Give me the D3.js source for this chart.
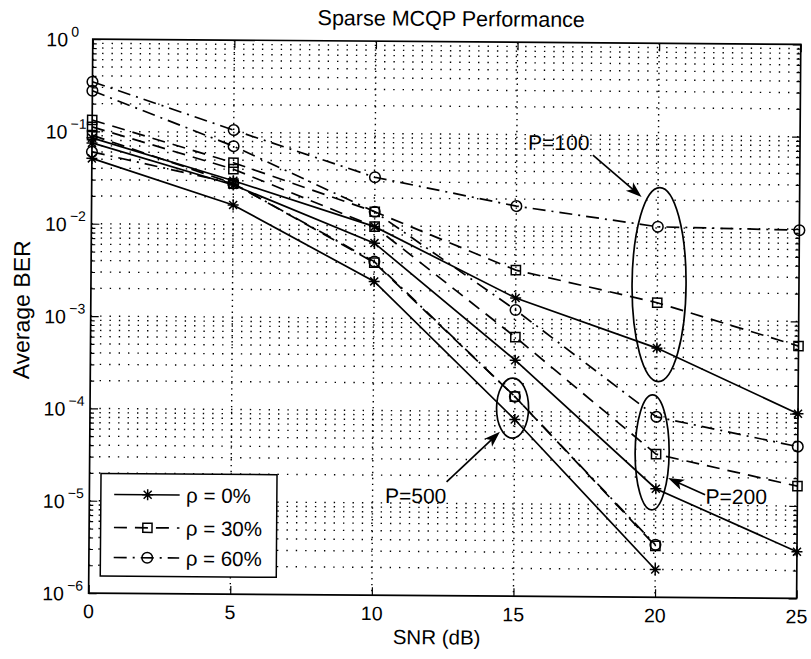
<!DOCTYPE html>
<html>
<head>
<meta charset="utf-8">
<script src="https://cdn.jsdelivr.net/npm/d3@7"></script>
<style>
  body { margin: 0; background: #fff; }
  svg { display: block; }
  text { font-family: "Liberation Sans", Arial, Helvetica, sans-serif; fill: #000; }
</style>
</head>
<body>
<svg id="chart" width="811" height="659"></svg>
<script>
// ---- data -------------------------------------------------------------
const snr = [0, 5, 10, 15, 20, 25];
const yTickExponents = [0, -1, -2, -3, -4, -5, -6];
const xTickValues = [0, 5, 10, 15, 20, 25];

// rho = 0 %  (solid, asterisk)
const rho0_P100 = [0.085, 0.030, 0.0098, 1.7e-3, 5.0e-4, 1.0e-4];
const rho0_P200 = [0.075, 0.027, 0.0065, 3.6e-4, 1.5e-5, 3.2e-6];
const rho0_P500 = [0.051, 0.0164, 0.0025, 8.2e-5, 2.0e-6];
// rho = 30 % (dashed, square)
const rho30_P100 = [0.133, 0.047, 0.0142, 3.4e-3, 1.55e-3, 5.4e-4];
const rho30_P200 = [0.112, 0.040, 0.0098, 6.4e-4, 3.55e-5, 1.64e-5];
const rho30_P500 = [0.091, 0.028, 0.0040, 1.45e-4, 3.6e-6];
// rho = 60 % (dash-dot, circle)
const rho60_P100 = [0.345, 0.106, 0.0336, 0.0168, 0.0103, 0.0097];
const rho60_P200 = [0.275, 0.071, 0.0142, 1.26e-3, 9.0e-5, 4.4e-5];
const rho60_P500 = [0.060, 0.028, 0.0041, 1.45e-4, 3.7e-6];

const legendLabels = ["\u03c1 = 0%", "\u03c1 = 30%", "\u03c1 = 60%"];

// annotation callouts: label, ellipse centre (SNR, BER), text anchor, arrow from/to
const annoLabels = ["P=100", "P=200", "P=500"];
const annoCentreSnr = [20.06, 19.86, 14.92];
const annoCentreBer = [2.44e-3, 3.7e-5, 1.09e-4];
const annoTextSnr = [15.40, 21.76, 10.44];
const annoTextBer = [0.0687, 1.04e-5, 1.0e-5];
const annoArrowFromSnr = [17.69, 21.74, 12.61];
const annoArrowFromBer = [0.0609, 1.3e-5, 1.71e-5];
const annoArrowToSnr = [19.42, 20.43, 14.48];
const annoArrowToBer = [0.0216, 1.96e-5, 6.03e-5];

// ---- layout -----------------------------------------------------------
const plotL = 90.7, plotR = 798.7, plotT = 41.7, plotB = 595.7;
const cx = 444.7, cy = 318.7;

const svg = d3.select("#chart");
const root = svg.append("g").attr("transform", `rotate(0.43,${cx},${cy})`);

const x = d3.scaleLinear().domain([0, 25]).range([plotL, plotR]);
const y = d3.scaleLog().domain([1e-6, 1]).range([plotB, plotT]);

const styles = [
  { dash: null, marker: "star" },
  { dash: "13,8", marker: "square" },
  { dash: "13,6,2,6", marker: "circle" }
];
const ellipseSize = [[27, 97], [17, 57.5], [16, 30]];

const series = [
  { values: rho0_P100, style: 0 }, { values: rho0_P200, style: 0 }, { values: rho0_P500, style: 0 },
  { values: rho30_P100, style: 1 }, { values: rho30_P200, style: 1 }, { values: rho30_P500, style: 1 },
  { values: rho60_P100, style: 2 }, { values: rho60_P200, style: 2 }, { values: rho60_P500, style: 2 }
];

// ---- grid -------------------------------------------------------------
const majors = yTickExponents.map(e => Math.pow(10, e));
const minors = [];
for (let e = -6; e < 0; e++) for (let m = 2; m <= 9; m++) minors.push(m * Math.pow(10, e));

const grid = root.append("g").attr("stroke", "#000").attr("stroke-width", 1.4).attr("fill", "none");
grid.selectAll("line.h").data(majors.concat(minors).filter(v => v > 1e-6 && v < 1)).join("line")
  .attr("class", "h")
  .attr("x1", plotL).attr("x2", plotR)
  .attr("y1", d => y(d)).attr("y2", d => y(d))
  .attr("stroke-dasharray", "1.4,8");
grid.selectAll("line.v").data(xTickValues.filter(v => v > 0 && v < 25)).join("line")
  .attr("class", "v")
  .attr("x1", d => x(d)).attr("x2", d => x(d))
  .attr("y1", plotT).attr("y2", plotB)
  .attr("stroke-dasharray", "1.4,4.5");

// ---- axes (ticks point inward) -----------------------------------------
function strip(g) { g.select(".domain").remove(); g.selectAll("text").remove(); g.selectAll("line").attr("stroke-width", 1.2); }
root.append("g").attr("transform", `translate(0,${plotB})`)
  .call(d3.axisBottom(x).tickValues(xTickValues).tickSize(-8)).call(strip);
root.append("g").attr("transform", `translate(0,${plotT})`)
  .call(d3.axisTop(x).tickValues(xTickValues).tickSize(-8)).call(strip);
root.append("g").attr("transform", `translate(${plotL},0)`)
  .call(d3.axisLeft(y).tickValues(majors).tickSize(-8)).call(strip);
root.append("g").attr("transform", `translate(${plotR},0)`)
  .call(d3.axisRight(y).tickValues(majors).tickSize(-8)).call(strip);
root.append("g").attr("transform", `translate(${plotL},0)`)
  .call(d3.axisLeft(y).tickValues(minors).tickSize(-4)).call(strip);
root.append("g").attr("transform", `translate(${plotR},0)`)
  .call(d3.axisRight(y).tickValues(minors).tickSize(-4)).call(strip);

// frame
root.append("rect").attr("x", plotL).attr("y", plotT)
  .attr("width", plotR - plotL).attr("height", plotB - plotT)
  .attr("fill", "none").attr("stroke", "#000").attr("stroke-width", 1.7);

// tick labels
root.append("g").selectAll("text").data(xTickValues).join("text")
  .attr("x", d => x(d)).attr("y", plotB + 25)
  .attr("text-anchor", "middle").attr("font-size", 19.5)
  .text(d => d);

const yl = root.append("g");
yTickExponents.forEach(e => {
  const yy = y(Math.pow(10, e));
  yl.append("text").attr("x", plotL - 24.7).attr("y", yy + 7.5)
    .attr("text-anchor", "end").attr("font-size", 19.5).text("10");
  yl.append("text").attr("x", plotL - 21.5).attr("y", yy - 2.5)
    .attr("text-anchor", "start").attr("font-size", 14)
    .text(e === 0 ? "0" : "\u2212" + (-e));
});

// titles
root.append("text").attr("x", 449).attr("y", 26).attr("text-anchor", "middle")
  .attr("font-size", 21.5).text("Sparse MCQP Performance");
root.append("text").attr("x", 439).attr("y", 644.5).attr("text-anchor", "middle")
  .attr("font-size", 20.5).text("SNR (dB)");
root.append("text").attr("transform", `translate(29.5,313) rotate(-90)`)
  .attr("text-anchor", "middle").attr("font-size", 23).text("Average BER");

// ---- markers ----------------------------------------------------------
function drawMarker(g, type, px, py) {
  if (type === "star") {
    g.append("path")
      .attr("d", `M${px - 5.5},${py}H${px + 5.5}M${px},${py - 5.5}V${py + 5.5}` +
                 `M${px - 4},${py - 4}L${px + 4},${py + 4}M${px - 4},${py + 4}L${px + 4},${py - 4}`)
      .attr("stroke", "#000").attr("stroke-width", 1.5).attr("fill", "none");
  } else if (type === "square") {
    g.append("rect").attr("x", px - 4.6).attr("y", py - 4.6).attr("width", 9.2).attr("height", 9.2)
      .attr("stroke", "#000").attr("stroke-width", 1.5).attr("fill", "none");
  } else {
    g.append("circle").attr("cx", px).attr("cy", py).attr("r", 5.3)
      .attr("stroke", "#000").attr("stroke-width", 1.5).attr("fill", "none");
  }
}

// ---- series -----------------------------------------------------------
const line = d3.line().x((d, i) => x(snr[i])).y(d => y(d));
const plot = root.append("g");
series.forEach(s => {
  const st = styles[s.style];
  plot.append("path").datum(s.values).attr("d", line)
    .attr("fill", "none").attr("stroke", "#000").attr("stroke-width", 1.7)
    .attr("stroke-dasharray", st.dash);
  s.values.forEach((v, i) => drawMarker(plot, st.marker, x(snr[i]), y(v)));
});

// ---- annotations ------------------------------------------------------
const anno = root.append("g");
annoLabels.forEach((lab, i) => {
  anno.append("ellipse")
    .attr("cx", x(annoCentreSnr[i])).attr("cy", y(annoCentreBer[i]))
    .attr("rx", ellipseSize[i][0]).attr("ry", ellipseSize[i][1])
    .attr("fill", "none").attr("stroke", "#000").attr("stroke-width", 1.7);
  anno.append("text").attr("x", x(annoTextSnr[i])).attr("y", y(annoTextBer[i]))
    .attr("font-size", 21).text(lab);
  const x1 = x(annoArrowFromSnr[i]), y1 = y(annoArrowFromBer[i]);
  const x2 = x(annoArrowToSnr[i]), y2 = y(annoArrowToBer[i]);
  const ang = Math.atan2(y2 - y1, x2 - x1) * 180 / Math.PI;
  const len = Math.hypot(x2 - x1, y2 - y1);
  const ag = anno.append("g").attr("transform", `translate(${x1},${y1}) rotate(${ang})`);
  ag.append("line").attr("x1", 0).attr("y1", 0).attr("x2", len - 10).attr("y2", 0)
    .attr("stroke", "#000").attr("stroke-width", 1.7);
  ag.append("path").attr("d", `M${len},0L${len - 16},-5.5L${len - 12},0L${len - 16},5.5Z`)
    .attr("fill", "#000");
});

// ---- legend -----------------------------------------------------------
const lg = root.append("g");
lg.append("rect").attr("x", 102.2).attr("y", 476).attr("width", 176).attr("height", 102.6)
  .attr("fill", "#fff").attr("stroke", "#000").attr("stroke-width", 1.5);
const rowY = [497, 530, 560];
legendLabels.forEach((lab, i) => {
  const st = styles[i];
  lg.append("line").attr("x1", 115.5).attr("x2", 181).attr("y1", rowY[i]).attr("y2", rowY[i])
    .attr("stroke", "#000").attr("stroke-width", 1.7).attr("stroke-dasharray", st.dash);
  drawMarker(lg, st.marker, 149, rowY[i]);
  lg.append("text").attr("x", 187.5).attr("y", rowY[i] + 7.5).attr("font-size", 20.5).text(lab);
});
</script>
</body>
</html>
